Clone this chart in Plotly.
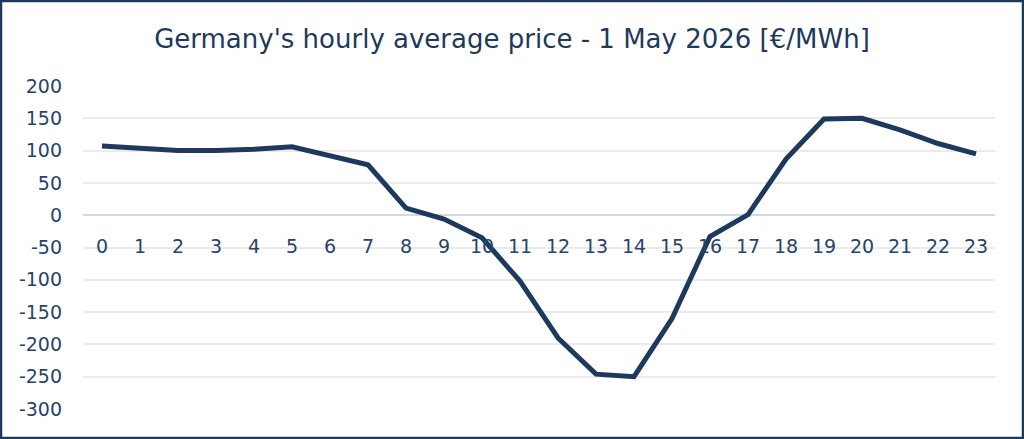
import plotly.graph_objects as go

hours = list(range(24))
prices = [107, 103, 100, 100, 102, 106, 92, 78, 11, -6, -35, -102, -190, -246, -250,
          -160, -33, 1, 87, 149, 150, 132, 111, 95]
y_ticks = [200, 150, 100, 50, 0, -50, -100, -150, -200, -250, -300]
title = "Germany's hourly average price - 1 May 2026 [€/MWh]"

W, H = 1024, 439
L, R, T, B = 83, 29, 86, 30
NAVY = "#1d3a5e"
TXT = "#26446b"
FONT = "DejaVu Sans, Liberation Sans, sans-serif"

fig = go.Figure()
fig.add_trace(go.Scatter(
    x=hours, y=prices, mode="lines",
    line=dict(color=NAVY, width=5, shape="linear"),
    hoverinfo="x+y", showlegend=False,
))

pw, ph = W - L - R, H - T - B
ymin, ymax = -300, 200
zero_pos = (0 - ymin) / (ymax - ymin)

fig.update_layout(
    width=W, height=H,
    margin=dict(l=L, r=R, t=T, b=B),
    paper_bgcolor="white", plot_bgcolor="white",
    title=dict(text=title, x=0.5, xanchor="center", y=1 - 39 / H, yanchor="middle",
               font=dict(family=FONT, size=26, color=NAVY)),
    font=dict(family=FONT, size=19, color=TXT),
    xaxis=dict(
        tickmode="array", tickvals=hours, ticktext=[str(h) for h in hours],
        range=[-0.5, 23.5], showgrid=False, zeroline=False, showline=False,
        anchor="free", position=zero_pos, ticks="", ticklabelstandoff=18,
        tickfont=dict(family=FONT, size=19, color=TXT),
    ),
    yaxis=dict(
        range=[ymin, ymax], tickmode="array", tickvals=y_ticks,
        ticktext=[str(v) for v in y_ticks],
        showgrid=True, gridcolor="#ebebeb", gridwidth=1.5,
        zeroline=True, zerolinecolor="#d3d8e0", zerolinewidth=1.5,
        showline=False, ticks="", ticklabelstandoff=20,
        tickfont=dict(family=FONT, size=19, color=TXT),
    ),
)

# outer frame around the whole picture
fx0 = (1 - L) / pw
fx1 = (W - 1 - L) / pw
fy0 = -(B - 1) / ph
fy1 = 1 + (T - 1) / ph
fig.add_shape(type="rect", xref="paper", yref="paper", x0=fx0, x1=fx1, y0=fy0, y1=fy1,
              line=dict(color=NAVY, width=2.5), fillcolor="rgba(0,0,0,0)", layer="above")

fig.write_html("out.html")
